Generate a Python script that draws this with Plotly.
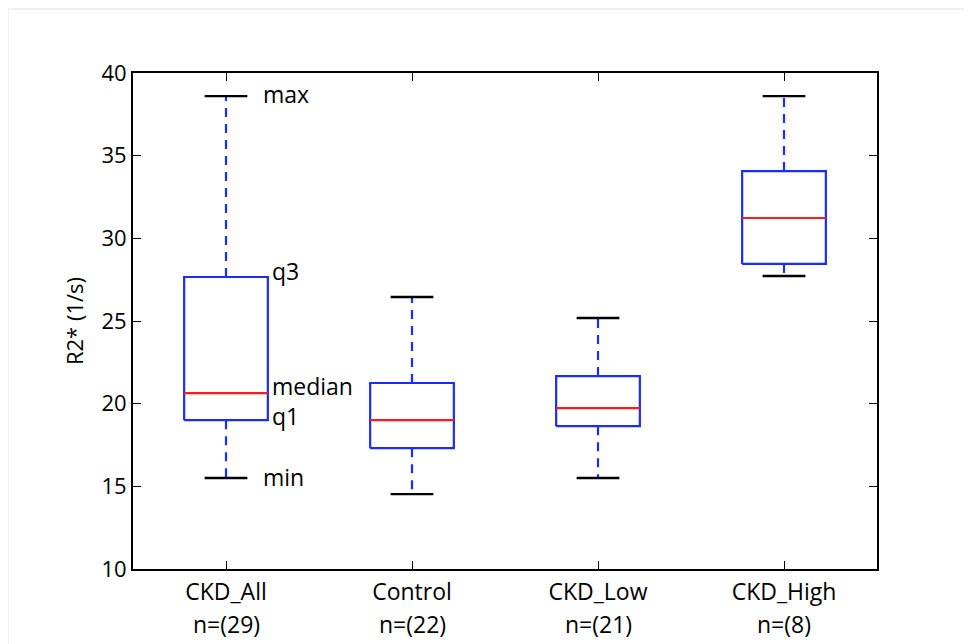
import plotly.graph_objects as go

categories = ["CKD_All", "Control", "CKD_Low", "CKD_High"]
n_counts = [29, 22, 21, 8]
mins = [15.5, 14.53, 15.5, 27.72]
q1s = [19.0, 17.31, 18.64, 28.45]
medians = [20.64, 19.0, 19.73, 31.23]
q3s = [27.66, 21.25, 21.67, 34.07]
maxs = [38.6, 26.45, 25.18, 38.6]
annot_labels = ["max", "q3", "median", "q1", "min"]

BOX_HALF = 0.225
CAP_HALF = 0.115
BLUE = "#1a2cff"
RED = "#ff1a1a"
FONT = "Open Sans"
FS = 22
FS_TXT = 23

pos = [i + 1 for i in range(len(categories))]

bx, by = [], []
mx, my = [], []
wx, wy = [], []
cx, cy = [], []
for p, lo, a, m, b, hi in zip(pos, mins, q1s, medians, q3s, maxs):
    bx += [p - BOX_HALF, p + BOX_HALF, p + BOX_HALF, p - BOX_HALF, p - BOX_HALF, None]
    by += [a, a, b, b, a, None]
    mx += [p - BOX_HALF, p + BOX_HALF, None]
    my += [m, m, None]
    wx += [p, p, None, p, p, None]
    wy += [b, hi, None, a, lo, None]
    cx += [p - CAP_HALF, p + CAP_HALF, None, p - CAP_HALF, p + CAP_HALF, None]
    cy += [hi, hi, None, lo, lo, None]

fig = go.Figure()
fig.add_trace(go.Scatter(x=wx, y=wy, mode="lines",
                         line=dict(color=BLUE, width=2.2, dash="9px,7px"),
                         hoverinfo="skip", showlegend=False))
fig.add_trace(go.Scatter(x=cx, y=cy, mode="lines",
                         line=dict(color="black", width=2.4),
                         hoverinfo="skip", showlegend=False))
fig.add_trace(go.Scatter(x=bx, y=by, mode="lines",
                         line=dict(color=BLUE, width=2.2),
                         hoverinfo="skip", showlegend=False))
fig.add_trace(go.Scatter(x=mx, y=my, mode="lines",
                         line=dict(color=RED, width=2.2),
                         hoverinfo="skip", showlegend=False))

# labels on the first box
vals0 = [maxs[0], q3s[0], medians[0], q1s[0], mins[0]]
yshifts = {"max": 2, "q3": 6, "median": 7, "q1": 4, "min": 1}
for lab, v in zip(annot_labels, vals0):
    on_cap = lab in ("max", "min")
    fig.add_annotation(
        x=pos[0] + (CAP_HALF if on_cap else BOX_HALF), y=v,
        xref="x", yref="y", text=lab, showarrow=False,
        xanchor="left", yanchor="middle", borderpad=0,
        xshift=15 if on_cap else 3,
        yshift=yshifts[lab],
        font=dict(size=FS_TXT, color="black", family=FONT),
    )

# second line of category labels: sample counts
for p, n in zip(pos, n_counts):
    fig.add_annotation(
        x=p, y=0, xref="x", yref="paper", text=f"n=({n})", showarrow=False,
        xanchor="center", yanchor="middle", yshift=-55, borderpad=0,
        font=dict(size=FS_TXT, color="black", family=FONT),
    )

# page is offset by the 8px body margin
L, R, T = 125, 95, 65
W, H = 964, 636
pw = W - L - R
ph = 561 - T
B = H - T - ph

def py(fy):
    return 1 - (fy - T) / ph

fig.add_shape(type="rect", xref="paper", yref="paper",
              x0=(0 - L) / pw, x1=(W + 20 - L) / pw,
              y0=py(H + 20), y1=py(1),
              line=dict(color="#e3e3e3", width=1), layer="below")

fig.update_layout(
    width=W, height=H,
    margin=dict(l=L, r=R, t=T, b=B),
    plot_bgcolor="white", paper_bgcolor="white",
    font=dict(family=FONT, size=FS, color="black"),
    xaxis=dict(range=[0.5, 4.5], tickvals=pos, ticktext=categories,
               showgrid=False, zeroline=False,
               showline=True, linecolor="black", linewidth=2, mirror="ticks",
               ticks="inside", ticklen=8, tickwidth=1.2, tickcolor="black",
               ticklabelstandoff=1,
               tickfont=dict(size=FS_TXT)),
    yaxis=dict(range=[10, 40], tickvals=[10, 15, 20, 25, 30, 35, 40],
               showgrid=False, zeroline=False,
               showline=True, linecolor="black", linewidth=2, mirror="ticks",
               ticks="inside", ticklen=8, tickwidth=1.2, tickcolor="black",
               tickfont=dict(size=FS),
               title=dict(text="R2* (1/s)", font=dict(size=FS), standoff=12)),
)

fig.write_html("out.html")
